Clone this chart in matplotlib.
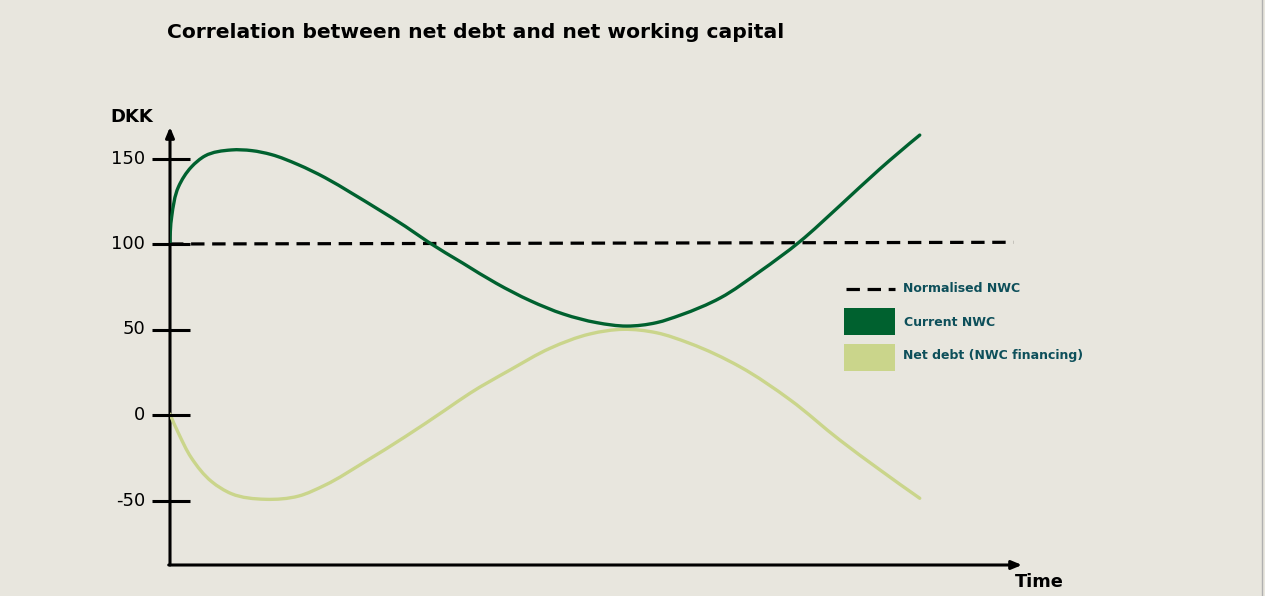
import matplotlib
matplotlib.use("Agg")
import matplotlib.pyplot as plt
from matplotlib.path import Path
from matplotlib.patches import PathPatch, Rectangle
import numpy as np

# ---- data ----
title = "Correlation between net debt and net working capital"
y_label = "DKK"
x_label = "Time"
y_ticks = [150, 100, 50, 0, -50]
y_tick_labels = ["150", "100", "50", "0", "-50"]

normalised_t = [0, 99]
normalised_v = [100, 101]

current_t = [0, 0.2, 1.0, 2.5, 4.1, 7.2, 9.6, 11.9, 15.0, 18.2, 21.3, 24.4, 27.6,
             30.3, 34.4, 38.3, 42.3, 46.2, 50.1, 53.6, 57.1, 59.9, 64.6, 69.2,
             73.9, 78.6, 83.3, 88.0]
current_v = [100, 116, 133.5, 145, 151.5, 155, 154.6, 152.3, 146.5, 138.8, 129.8, 120.4,
             110.4, 101.2, 88.7, 77, 66.8, 59, 54, 52, 54, 58.4, 68.5, 83.8,
             101.3, 122.3, 143.8, 163.7]

debt_t = [0, 1.0, 2.5, 4.9, 7.2, 11.2, 15.1, 18.2, 22.9, 27.6, 32.3, 35.2, 39.9,
          44.6, 49.3, 53.2, 57.1, 61.0, 66.9, 72.8, 78.6, 83.3, 88.0]
debt_v = [0.5, -10.7, -25, -39, -46, -49.3, -47.4, -41, -27.3, -12.7, 2.9, 12.7, 26.3,
          39, 47.4, 50.1, 48.1, 41.9, 28.2, 8.8, -14.6, -32, -48.7]

legend_labels = ["Normalised NWC", "Current NWC", "Net debt (NWC financing)"]

# ---- style ----
BG = "#e8e6de"
DARK = "#00612f"
LIGHT = "#cad58b"
LEG_TXT = "#0d4f5a"

W, H = 1265, 596
fig = plt.figure(figsize=(W / 100, H / 100), dpi=100, facecolor=BG)

# main axes: x pixel 170..1022 -> t 0..100 ; y pixel 565..127
ymin, ymax = (415 - 565) / 1.71, (415 - 127) / 1.71
ax = fig.add_axes([170 / W, 1 - 565 / H, (1022 - 170) / W, (565 - 127) / H])
ax.set_facecolor(BG)
ax.set_xlim(0, 100)
ax.set_ylim(ymin, ymax)
ax.axis("off")

SX, SY = 8.52, 1.71  # display scale used only to get an even curve parameter


def smooth_path(xs, ys):
    """Parametric cubic Hermite rendering through each read point."""
    P = np.column_stack([np.asarray(xs, float) * SX, np.asarray(ys, float) * SY])
    n = len(P)
    h = np.linalg.norm(np.diff(P, axis=0), axis=1)
    D = np.diff(P, axis=0) / h[:, None]
    T = np.empty_like(P)
    for i in range(1, n - 1):
        T[i] = (D[i] * h[i - 1] + D[i - 1] * h[i]) / (h[i - 1] + h[i])
    T[0] = 2 * D[0] - T[1]
    T[-1] = 2 * D[-1] - T[-2]
    verts = [P[0]]
    codes = [Path.MOVETO]
    for i in range(n - 1):
        verts += [P[i] + T[i] * h[i] / 3, P[i + 1] - T[i + 1] * h[i] / 3, P[i + 1]]
        codes += [Path.CURVE4] * 3
    V = np.array(verts)
    V[:, 0] /= SX
    V[:, 1] /= SY
    return Path(V, codes)


# dashed normalised line
ax.plot(normalised_t, normalised_v, color="black", lw=2.3,
        dashes=(4.2, 2.4), solid_capstyle="butt", zorder=3)

# curves
ax.add_patch(PathPatch(smooth_path(debt_t, debt_v), fill=False,
                       edgecolor=LIGHT, lw=2.4, zorder=4, capstyle="round"))
ax.add_patch(PathPatch(smooth_path(current_t, current_v), fill=False,
                       edgecolor=DARK, lw=2.4, zorder=5, capstyle="round"))

# axes with arrows
ax.annotate("", xy=(0, ymax), xytext=(0, ymin), annotation_clip=False,
            arrowprops=dict(arrowstyle="-|>,head_length=0.6,head_width=0.25",
                            color="black", lw=2.2, shrinkA=0, shrinkB=0))
ax.annotate("", xy=(100, ymin), xytext=(-0.15, ymin), annotation_clip=False,
            arrowprops=dict(arrowstyle="-|>,head_length=0.6,head_width=0.25",
                            color="black", lw=2.2, shrinkA=0, shrinkB=0))

# ticks and labels
for v, lab in zip(y_ticks, y_tick_labels):
    ax.plot([-2.1, 2.35], [v, v], color="black", lw=2.2, clip_on=False,
            solid_capstyle="butt", zorder=6)
    ax.text(-2.9, v, lab, ha="right", va="center", fontsize=13,
            family="DejaVu Sans", color="black")

# overlay axes in pixel coordinates for text / legend
ov = fig.add_axes([0, 0, 1, 1])
ov.set_xlim(0, W)
ov.set_ylim(H, 0)
ov.axis("off")
ov.patch.set_alpha(0)

ov.text(167, 33, title, ha="left", va="center", fontsize=14.6,
        fontweight="bold", color="black")
ov.text(110, 117, y_label, ha="left", va="center", fontsize=13,
        fontweight="bold", color="black")
ov.text(1015, 582, x_label, ha="left", va="center", fontsize=12.8,
        fontweight="bold", color="black")

# legend
ov.plot([846, 895], [289, 289], color="black", lw=2.3, dashes=(4.2, 2.4),
        solid_capstyle="butt")
ov.add_patch(Rectangle((844, 308), 51, 27, facecolor=DARK, edgecolor="none"))
ov.add_patch(Rectangle((844, 344), 51, 27, facecolor=LIGHT, edgecolor="none"))
ov.text(903, 289, legend_labels[0], ha="left", va="center", fontsize=9,
        fontweight="bold", color=LEG_TXT)
ov.text(904, 322, legend_labels[1], ha="left", va="center", fontsize=9,
        fontweight="bold", color=LEG_TXT)
ov.text(903, 356, legend_labels[2], ha="left", va="center", fontsize=9,
        fontweight="bold", color=LEG_TXT)

# right border line
ov.plot([1262, 1262], [0, H], color="#b0b0b0", lw=1)

fig.savefig("out.png", dpi=100, facecolor=BG)
